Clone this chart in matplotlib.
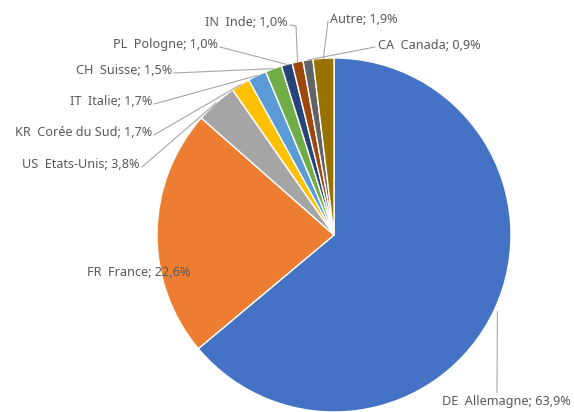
import numpy as np
import matplotlib
matplotlib.use("Agg")
import matplotlib.pyplot as plt

codes = ["DE", "FR", "US", "KR", "IT", "CH", "PL", "IN", "CA", ""]
names = ["Allemagne", "France", "Etats-Unis", "Corée du Sud", "Italie", "Suisse",
         "Pologne", "Inde", "Canada", "Autre"]
values = [63.9, 22.6, 3.8, 1.7, 1.7, 1.5, 1.0, 1.0, 0.9, 1.9]
colors = ["#4472C4", "#ED7D31", "#A5A5A5", "#FFC000", "#5B9BD5", "#70AD47",
          "#264478", "#9E480E", "#636363", "#997300"]

# label layout (pixel coords, y from top): x, y, ha
label_pos = [(442, 402, "left"), (139, 272, "center"), (140, 164, "right"),
             (152, 132, "right"), (152, 101, "right"), (172, 70, "right"),
             (218, 44, "right"), (288, 22, "right"), (378, 45, "left"),
             (330, 19, "left")]

W, H = 574, 412
fig = plt.figure(figsize=(W / 100, H / 100), dpi=100)
ax = fig.add_axes([0, 0, 1, 1])

cx, cy, r = 334, H - 235, 177
wedges, _ = ax.pie(values, colors=colors, startangle=90, counterclock=False,
                   center=(cx, cy), radius=r, frame=True,
                   wedgeprops=dict(edgecolor="white", linewidth=1.0))
ax.set_xlim(0, W)
ax.set_ylim(0, H)
ax.set_aspect("equal")
ax.axis("off")

tc = "#595959"
lc = "#A6A6A6"
for i, (w, code, name, v) in enumerate(zip(wedges, codes, names, values)):
    pct = f"{v:.1f}".replace(".", ",") + "%"
    txt = (f"{code}  {name}; {pct}" if code else f"{name}; {pct}")
    x, y, ha = label_pos[i]
    ax.text(x, H - y, txt, ha=ha, va="center", fontsize=9.1, color=tc,
            family=["Noto Sans", "DejaVu Sans"])
    if code == "FR":
        continue
    ang = np.deg2rad((w.theta1 + w.theta2) / 2)
    px, py = cx + r * np.cos(ang), cy + r * np.sin(ang)
    if code == "DE":
        pts = [(px + 3, py - 2), (497, H - 392)]
    elif code == "IN":
        pts = [(290, H - 25), (296, H - 26), (px, py)]
    elif name == "Autre":
        pts = [(328, H - 21), (px, py)]
    elif code == "CA":
        pts = [(375, H - 47), (px, py)]
    else:
        pts = [(x + 2, H - y - 3), (px, py)]
    xs, ys = zip(*pts)
    ax.plot(xs, ys, color=lc, lw=0.8, zorder=3)

fig.savefig("out.png", dpi=100)
